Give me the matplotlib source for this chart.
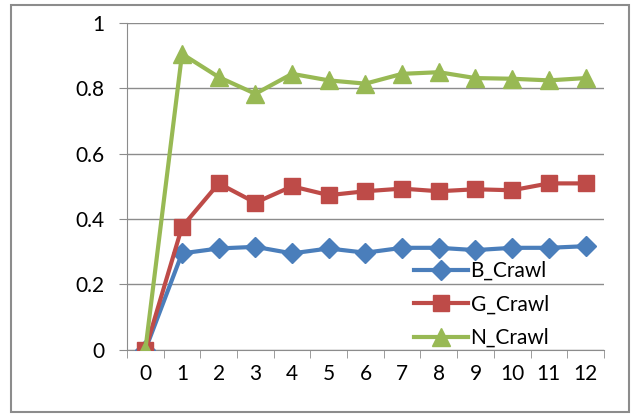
import matplotlib
matplotlib.use("Agg")
import matplotlib.pyplot as plt
from matplotlib.patches import Rectangle
import numpy as np

# data
steps = list(range(13))
b_crawl = [0, 0.295, 0.31, 0.315, 0.295, 0.31, 0.297, 0.312, 0.312, 0.305, 0.312, 0.312, 0.317]
g_crawl = [0, 0.376, 0.509, 0.45, 0.50, 0.473, 0.485, 0.493, 0.485, 0.491, 0.488, 0.509, 0.509]
n_crawl = [0, 0.905, 0.834, 0.783, 0.844, 0.824, 0.814, 0.844, 0.849, 0.831, 0.829, 0.824, 0.831]
y_ticks = [0, 0.2, 0.4, 0.6, 0.8, 1]
y_labels = ["0", "0.2", "0.4", "0.6", "0.8", "1"]

plt.rcParams['font.family'] = ['Lato', 'DejaVu Sans']

fig = plt.figure(figsize=(6.35, 4.15), dpi=100)
ax = fig.add_axes([0.2, 0.157, 0.751, 0.788])

fig.patches.append(Rectangle((0.017, 0.007), 0.973, 0.98, transform=fig.transFigure,
                             fill=False, edgecolor="#8c8c8c", linewidth=1.5))

ax.plot(steps, b_crawl, color="#4A7EBB", lw=3, marker="D", markersize=10, label="B_Crawl", zorder=3)
ax.plot(steps, g_crawl, color="#BE4B48", lw=3, marker="s", markersize=11, label="G_Crawl", zorder=4)
ax.plot(steps, n_crawl, color="#98B954", lw=3, marker="^", markersize=13, label="N_Crawl", zorder=5)

ax.set_xlim(-0.5, 12.5)
ax.set_ylim(0, 1)
ax.set_yticks(y_ticks)
ax.set_yticklabels(y_labels)
ax.set_xticks(steps)
ax.set_xticklabels([str(s) for s in steps])
ax.set_xticks(np.arange(-0.5, 13, 1), minor=True)
ax.tick_params(axis="x", which="major", length=0, pad=10, labelsize=15)
ax.tick_params(axis="x", which="minor", length=6, color="#8c8c8c", direction="out")
ax.tick_params(axis="y", length=6, color="#8c8c8c", pad=10, labelsize=15)

ax.grid(axis="y", color="#8c8c8c", lw=1)
ax.set_axisbelow(True)
for s in ["top", "right"]:
    ax.spines[s].set_visible(False)
ax.spines["left"].set_color("#8c8c8c")
ax.spines["bottom"].set_color("#8c8c8c")

ax.legend(loc="lower left", bbox_to_anchor=(0.585, -0.02), frameon=False, fontsize=15,
          handlelength=2.6, handletextpad=0.1, labelspacing=0.65, borderaxespad=0)

fig.savefig("out.png", dpi=100)
